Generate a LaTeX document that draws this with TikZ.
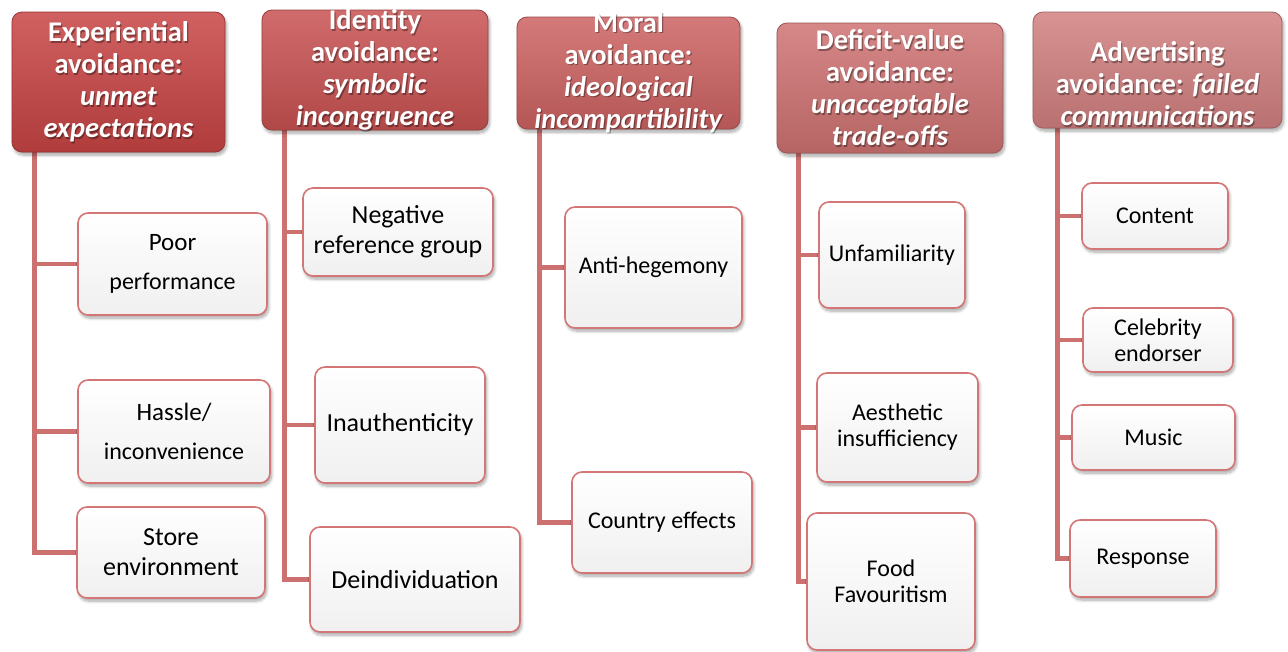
\documentclass[tikz,border=0pt]{standalone}
\usepackage{fontspec}
\setmainfont{Carlito}
\usetikzlibrary{shadows.blur,backgrounds}

\definecolor{trunk}{RGB}{205,112,112}
\definecolor{cborder}{RGB}{212,118,118}
\definecolor{hcA}{RGB}{200,68,68}
\definecolor{hcB}{RGB}{201,82,82}
\definecolor{hcC}{RGB}{205,98,98}
\definecolor{hcD}{RGB}{207,114,114}
\definecolor{hcE}{RGB}{210,128,128}

\tikzset{
  conn/.style={draw=trunk, line width=4.5pt},
  softshadow/.style={blur shadow={shadow xshift=1.5pt, shadow yshift=-3pt,
      shadow opacity=35, shadow blur steps=8, shadow blur radius=3pt}},
  childbox/.style={draw=cborder, line width=1.6pt, rounded corners=10pt,
      top color=white, bottom color=black!6, softshadow,
      align=center, text=black, inner sep=0pt},
  bigsz/.style={font=\fontsize{26}{30}\selectfont},
  midsz/.style={font=\fontsize{24}{26}\selectfont},
  widesz/.style={font=\fontsize{24}{39}\selectfont},
  headbox/.style={draw=#1!75!black, line width=0.8pt, rounded corners=10pt,
      top color=#1!85!white, bottom color=#1!88!black, softshadow},
  headtext/.style={text=white, align=center, inner sep=0pt,
      font=\fontsize{28.5}{32}\selectfont\bfseries},
  headshade/.style={headtext, text=black, opacity=0.35},
}

% header caption with a soft dark offset copy under the white text
\newcommand\captionat[3]{%
  \node[headshade] (#1s) at ([shift={(1.2,1.5)}]#2) {#3};
  \node[headtext] (#1) at (#2) {#3};}

\newcommand\firstline[1]{{\fontsize{25}{30}\selectfont #1}}

\begin{document}
\begin{tikzpicture}[x=1pt, y=-1pt]
\useasboundingbox (0,0) rectangle (1288,651);

% ---- category headers
\node[headbox=hcA, minimum width=213pt, minimum height=140pt] (h1) at (118.5,82) {};
\node[headbox=hcB, minimum width=226pt, minimum height=120pt] (h2) at (375,70) {};
\node[headbox=hcC, minimum width=223pt, minimum height=112pt] (h3) at (628.5,73) {};
\node[headbox=hcD, minimum width=226pt, minimum height=130pt] (h4) at (890,88) {};
\node[headbox=hcE, minimum width=249pt, minimum height=116pt] (h5) at (1157.5,70) {};

\captionat{l1}{118.5,82}{Experiential\\avoidance:\\\textit{unmet}\\\textit{expectations}}
\captionat{l2}{375,70}{Identity\\avoidance:\\\textit{symbolic}\\\textit{incongruence}}
\captionat{l3}{628.5,72.5}{Moral\\avoidance:\\\textit{ideological}\\\textit{incompartibility}}
\captionat{l4}{890,88}{Deficit-value\\avoidance:\\\textit{unacceptable}\\\textit{trade-offs}}
\captionat{l5}{1157.5,84}{Advertising\\avoidance: \textit{failed}\\\textit{communications}}

% ---- sub-categories
\node[childbox, widesz, minimum width=189pt, minimum height=102pt] (c1a) at (172.5,264)
  {\firstline{Poor}\\performance};
\node[childbox, widesz, minimum width=192pt, minimum height=103pt] (c1b) at (174,431.5)
  {\firstline{Hassle/}\\inconvenience};
\node[childbox, bigsz, minimum width=188pt, minimum height=91pt] (c1c) at (171,552.5)
  {Store\\environment};

\node[childbox, bigsz, minimum width=190pt, minimum height=88pt] (c2a) at (398,232)
  {Negative\\reference group};
\node[childbox, bigsz, minimum width=170pt, minimum height=116pt] (c2b) at (400,425)
  {Inauthenticity};
\node[childbox, bigsz, minimum width=210pt, minimum height=105pt] (c2c) at (415,579.5)
  {Deindividuation};

\node[childbox, midsz, minimum width=177pt, minimum height=121pt] (c3a) at (653.5,267.5)
  {Anti-hegemony};
\node[childbox, midsz, minimum width=180pt, minimum height=101pt] (c3b) at (662,522.5)
  {Country effects};

\node[childbox, midsz, minimum width=146pt, minimum height=106pt] (c4a) at (892,255)
  {Unfamiliarity};
\node[childbox, midsz, minimum width=161pt, minimum height=109pt] (c4b) at (897.5,427.5)
  {Aesthetic\\insufficiency};
\node[childbox, midsz, minimum width=168pt, minimum height=137pt] (c4c) at (891,581.5)
  {Food\\Favouritism};

\node[childbox, midsz, minimum width=146pt, minimum height=66pt] (c5a) at (1155,216)
  {Content};
\node[childbox, midsz, minimum width=150pt, minimum height=64pt] (c5b) at (1158,340)
  {Celebrity\\endorser};
\node[childbox, midsz, minimum width=163pt, minimum height=65pt] (c5c) at (1153.5,437.5)
  {Music};
\node[childbox, midsz, minimum width=146pt, minimum height=77pt] (c5d) at (1143,558.5)
  {Response};

% ---- trunks and branches
\coordinate (t1) at ([xshift=23pt]h1.south west);
\coordinate (t2) at ([xshift=23pt]h2.south west);
\coordinate (t3) at ([xshift=23pt]h3.south west);
\coordinate (t4) at ([xshift=22pt]h4.south west);
\coordinate (t5) at ([xshift=25pt]h5.south west);

\begin{scope}[on background layer]
  \draw[conn] (t1) |- (c1c.west);
  \draw[conn] (c1a.west) -- (c1a.west -| t1);
  \draw[conn] (c1b.west) -- (c1b.west -| t1);

  \draw[conn] (t2) |- (c2c.west);
  \draw[conn] (c2a.west) -- (c2a.west -| t2);
  \draw[conn] (c2b.west) -- (c2b.west -| t2);

  \draw[conn] (t3) |- (c3b.west);
  \draw[conn] (c3a.west) -- (c3a.west -| t3);

  \draw[conn] (t4) |- (c4c.west);
  \draw[conn] (c4a.west) -- (c4a.west -| t4);
  \draw[conn] (c4b.west) -- (c4b.west -| t4);

  \draw[conn] (t5) |- (c5d.west);
  \draw[conn] (c5a.west) -- (c5a.west -| t5);
  \draw[conn] (c5b.west) -- (c5b.west -| t5);
  \draw[conn] (c5c.west) -- (c5c.west -| t5);
\end{scope}
\end{tikzpicture}
\end{document}
